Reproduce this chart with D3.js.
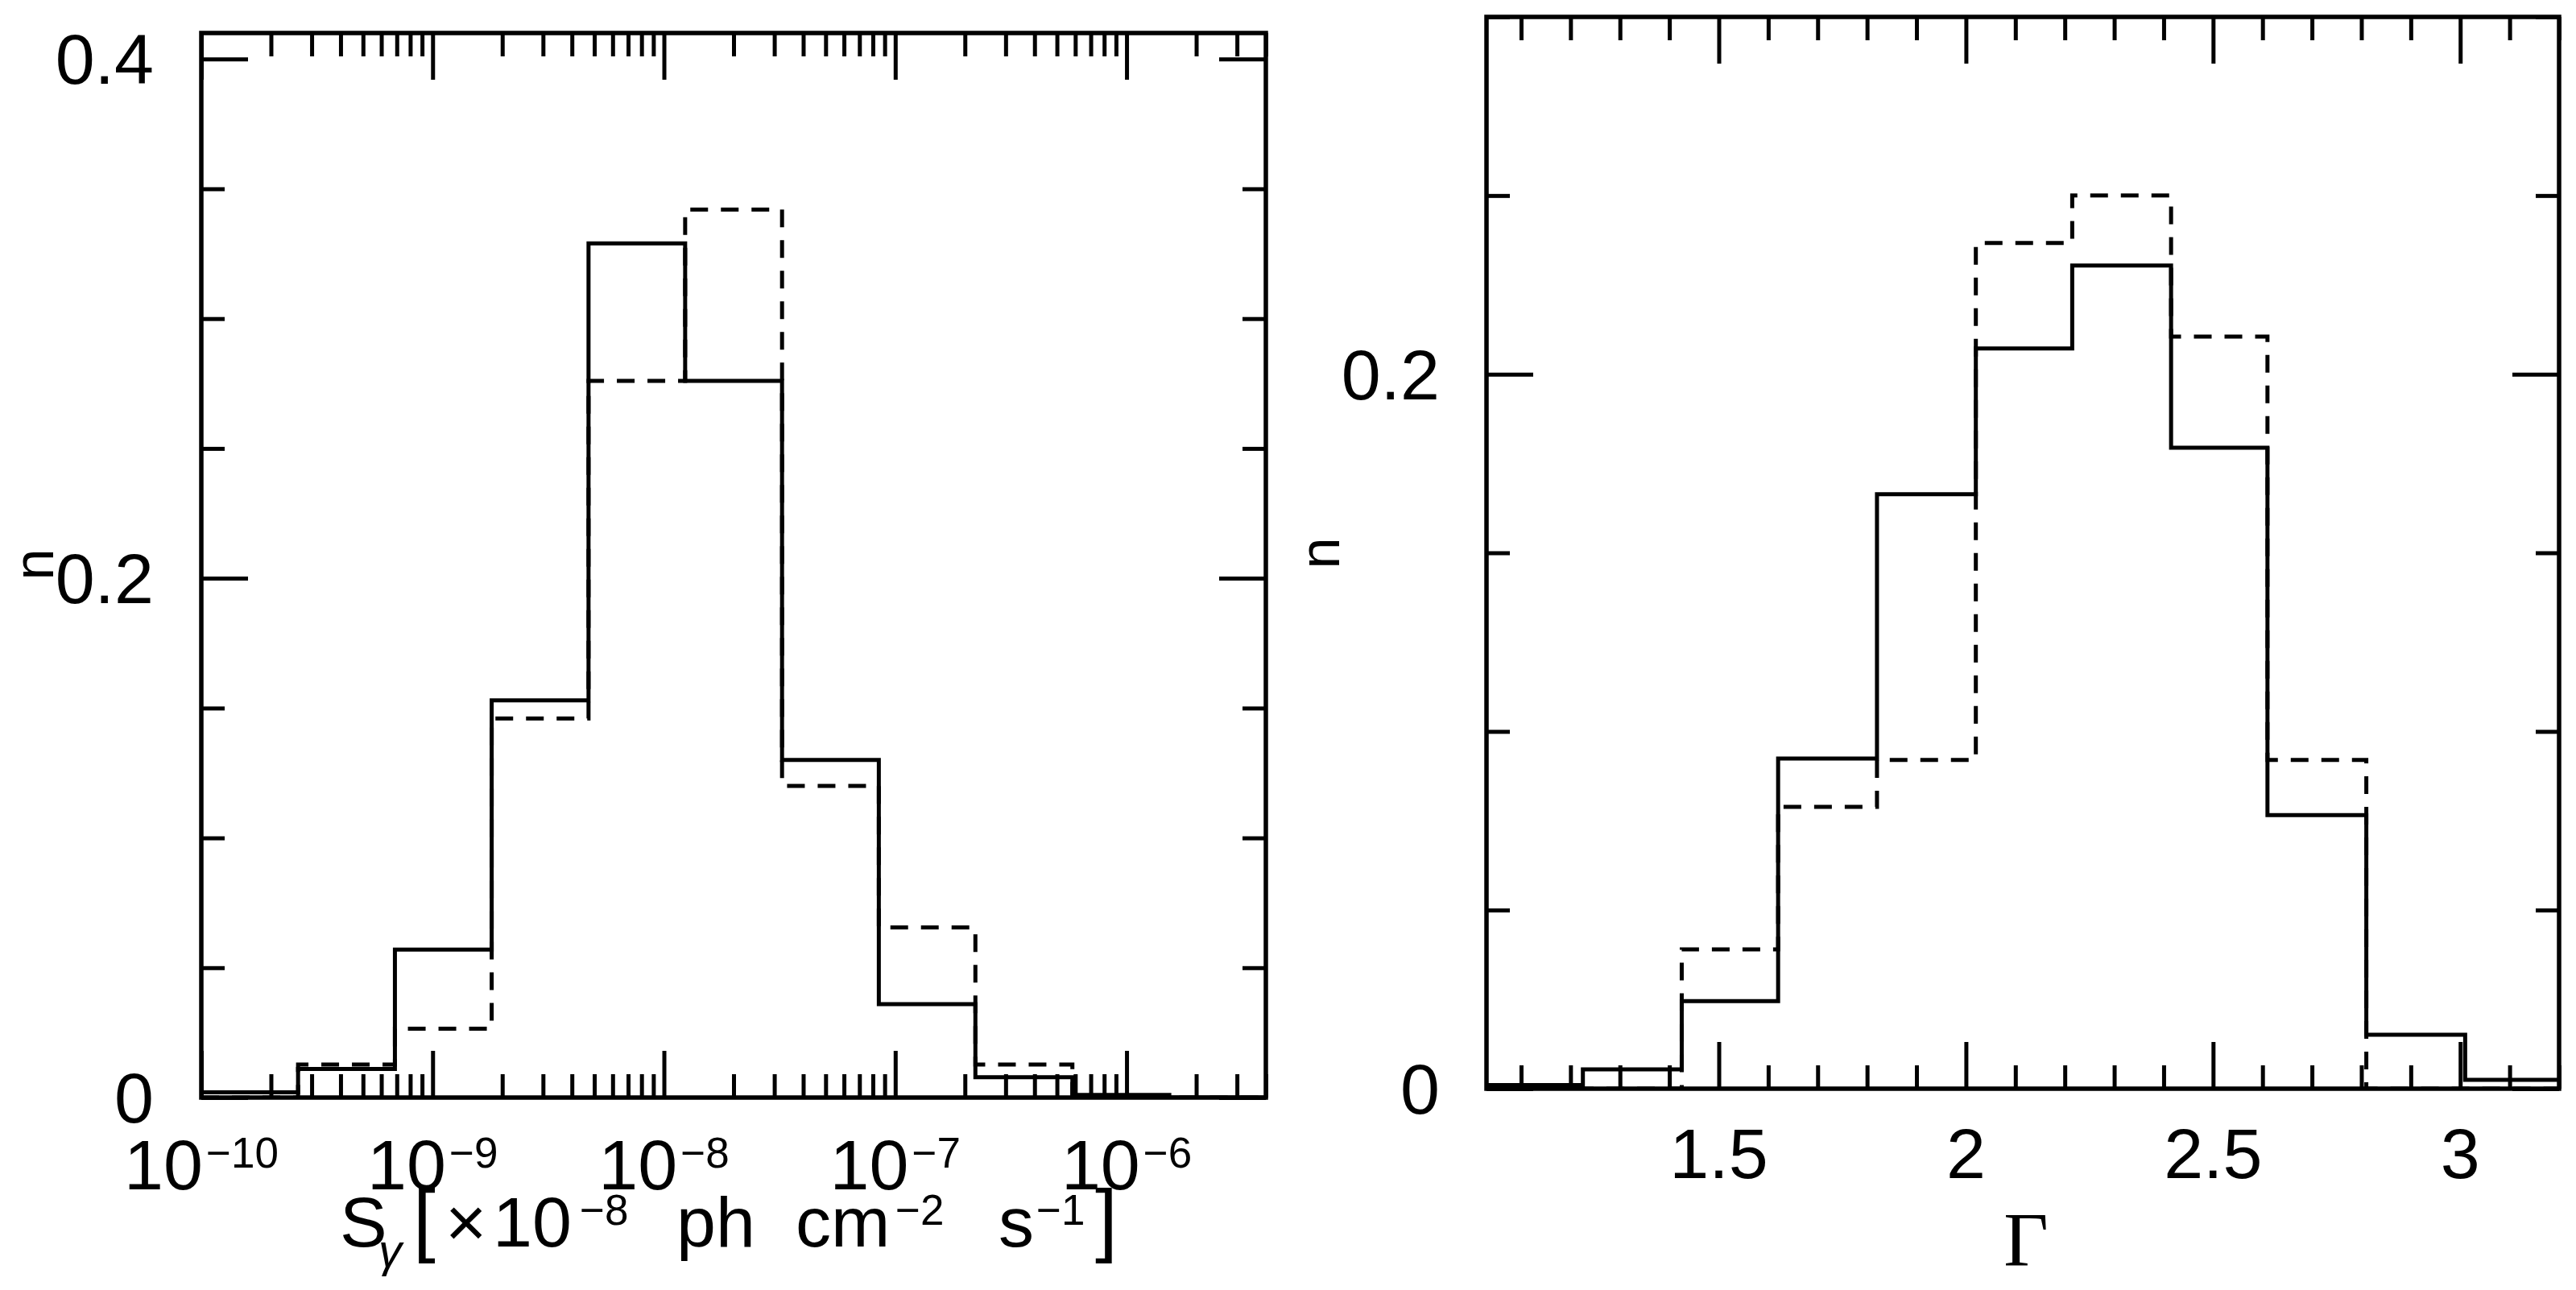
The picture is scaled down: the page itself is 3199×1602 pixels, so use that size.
<!DOCTYPE html>
<html><head><meta charset="utf-8">
<script src="https://cdn.jsdelivr.net/npm/d3@7"></script>
<style>html,body{margin:0;padding:0;background:#fff;} svg{display:block}</style>
</head><body>
<svg id="chart" width="3199" height="1602"></svg>
<script>
// ---------- DATA ----------
// Left panel: flux histogram (log bins)
const fluxBinEdges = [1e-10, 2.62e-10, 6.87e-10, 1.80e-9, 4.72e-9, 1.235e-8, 3.24e-8, 8.49e-8, 2.22e-7, 5.83e-7, 1.53e-6, 4.0e-6];
const fluxSolid  = [0.002, 0.011, 0.057, 0.153, 0.329, 0.276, 0.130, 0.036, 0.0078, 0.001, 0];
const fluxDashed = [0, 0.0127, 0.0265, 0.146, 0.276, 0.342, 0.120, 0.0655, 0.0127, 0, 0];
const fluxXMajor = [1e-10, 1e-9, 1e-8, 1e-7, 1e-6];
const fluxXExp   = ["\u221210", "\u22129", "\u22128", "\u22127", "\u22126"];
const fluxYMajor = [0, 0.2, 0.4];
const fluxYLabels = ["0", "0.2", "0.4"];

// Right panel: photon index histogram
const gammaBinEdges = [1.025, 1.225, 1.425, 1.62, 1.82, 2.02, 2.215, 2.415, 2.61, 2.81, 3.01, 3.21];
const gammaSolid  = [0.001, 0.0054, 0.0245, 0.0924, 0.1664, 0.2072, 0.2304, 0.1794, 0.0766, 0.0151, 0.0025];
const gammaDashed = [0, 0, 0.039, 0.0789, 0.092, 0.2367, 0.250, 0.2105, 0.092, 0, 0];
const gammaXMajor = [1.5, 2, 2.5, 3];
const gammaXLabels = ["1.5", "2", "2.5", "3"];
const gammaYMajor = [0, 0.2];
const gammaYLabels = ["0", "0.2"];

// ---------- LAYOUT ----------
const svg = d3.select("#chart");
const FONT = "'Liberation Sans', Arial, sans-serif";
const LW = 5;
const MAJ = 58, MIN = 29;

const L = {x0: 250, x1: 1572, y0: 41, y1: 1363};
const R = {x0: 1846, x1: 3178, y0: 21, y1: 1352};

const xL = d3.scaleLog().domain([1e-10, 4e-6]).range([L.x0, L.x1]);
const yL = d3.scaleLinear().domain([0, 0.41]).range([L.y1, L.y0]);
const xR = d3.scaleLinear().domain([1.03, 3.2]).range([R.x0, R.x1]);
const yR = d3.scaleLinear().domain([0, 0.3]).range([R.y1, R.y0]);

function axis(gen, pos, ticks, size) {
  const g = svg.append("g").attr("transform", pos)
    .call(gen.tickValues(ticks).tickSizeInner(-size).tickSizeOuter(0).tickFormat(""));
  g.select(".domain").remove();
  g.selectAll("line").attr("stroke", "#000").attr("stroke-width", LW);
}

function panel(P, x, y, xMajor, xMinor, yMajor, yMinor) {
  axis(d3.axisBottom(x), `translate(0,${P.y1})`, xMinor, MIN);
  axis(d3.axisBottom(x), `translate(0,${P.y1})`, xMajor, MAJ);
  axis(d3.axisTop(x), `translate(0,${P.y0})`, xMinor, MIN);
  axis(d3.axisTop(x), `translate(0,${P.y0})`, xMajor, MAJ);
  axis(d3.axisLeft(y), `translate(${P.x0},0)`, yMinor, MIN);
  axis(d3.axisLeft(y), `translate(${P.x0},0)`, yMajor, MAJ);
  axis(d3.axisRight(y), `translate(${P.x1},0)`, yMinor, MIN);
  axis(d3.axisRight(y), `translate(${P.x1},0)`, yMajor, MAJ);
  svg.append("rect").attr("x", P.x0).attr("y", P.y0)
    .attr("width", P.x1 - P.x0).attr("height", P.y1 - P.y0)
    .attr("fill", "none").attr("stroke", "#000").attr("stroke-width", 5.5);
}

function hist(P, x, y, edges, vals, dashed, id) {
  const clip = svg.append("clipPath").attr("id", id);
  clip.append("rect").attr("x", P.x0).attr("y", P.y0).attr("width", P.x1 - P.x0).attr("height", P.y1 - P.y0);
  const pts = edges.map((e, i) => [e, vals[Math.min(i, vals.length - 1)]]);
  const line = d3.line().x(d => x(d[0])).y(d => y(d[1])).curve(d3.curveStepAfter);
  svg.append("path").attr("d", line(pts)).attr("clip-path", `url(#${id})`)
    .attr("fill", "none").attr("stroke", "#000").attr("stroke-width", LW)
    .attr("stroke-dasharray", dashed ? "22,16" : null);
}

// Left panel
const fluxMinor = xL.ticks().filter(v => Math.abs(Math.log10(v) - Math.round(Math.log10(v))) > 1e-6);
const fluxYMinor = d3.range(0, 9).map(i => i * 0.05).filter(v => !fluxYMajor.some(m => Math.abs(m - v) < 1e-9));
panel(L, xL, yL, fluxXMajor, fluxMinor, fluxYMajor, fluxYMinor);
hist(L, xL, yL, fluxBinEdges, fluxSolid, false, "cL1");
hist(L, xL, yL, fluxBinEdges, fluxDashed, true, "cL2");

// Right panel
const gammaMinor = d3.ticks(1.1, 3.2, 21).filter(v => v >= 1.03 && !gammaXMajor.some(m => Math.abs(m - v) < 1e-9));
const gammaYMinor = d3.range(0, 7).map(i => i * 0.05).filter(v => !gammaYMajor.some(m => Math.abs(m - v) < 1e-9));
panel(R, xR, yR, gammaXMajor, gammaMinor, gammaYMajor, gammaYMinor);
hist(R, xR, yR, gammaBinEdges, gammaSolid, false, "cR1");
hist(R, xR, yR, gammaBinEdges, gammaDashed, true, "cR2");

// ---------- TEXT ----------
const FS = 88, SUP = 53;
function txt(x, y, s, opts = {}) {
  return svg.append("text").attr("x", x).attr("y", y).text(s)
    .attr("font-family", opts.family || FONT).attr("font-size", opts.size || FS)
    .attr("text-anchor", opts.anchor || "end").attr("fill", "#000");
}

// y tick labels
fluxYMajor.forEach((v, i) => txt(L.x0 - 59, yL(v) + 31, fluxYLabels[i]));
gammaYMajor.forEach((v, i) => txt(R.x0 - 58, yR(v) + 31, gammaYLabels[i]));

// x tick labels left (powers of ten)
fluxXMajor.forEach((v, i) => {
  const t = svg.append("text").attr("x", xL(v)).attr("y", 1477)
    .attr("font-family", FONT).attr("text-anchor", "middle").attr("fill", "#000");
  t.append("tspan").attr("font-size", FS).text("10");
  t.append("tspan").attr("font-size", SUP).attr("dy", -27).attr("dx", 4).text(fluxXExp[i]);
});
// x tick labels right
gammaXMajor.forEach((v, i) => txt(xR(v), 1463, gammaXLabels[i], {anchor: "middle"}));

// y axis titles "n"
svg.append("text").attr("transform", "translate(66,701) rotate(-90)")
  .attr("font-family", FONT).attr("font-size", 70).attr("text-anchor", "middle").text("n");
svg.append("text").attr("transform", "translate(1663,687) rotate(-90)")
  .attr("font-family", FONT).attr("font-size", 70).attr("text-anchor", "middle").text("n");

// x title left
(function () {
  const base = 1548;
  const t = svg.append("text").attr("font-family", FONT).attr("fill", "#000").attr("y", base);
  const pieces = [
    {s: "S", x: 422, size: FS, y: base},
    {s: "\u03b3", x: 470, size: 58, y: base + 25, style: "italic"},
    {s: "[", x: 513, size: 100, y: base},
    {s: "\u00d7", x: 553, size: FS, y: base},
    {s: "10", x: 612, size: FS, y: base},
    {s: "\u22128", x: 720, size: SUP, y: base - 27},
    {s: "ph", x: 840, size: FS, y: base},
    {s: "cm", x: 988, size: FS, y: base},
    {s: "\u22122", x: 1112, size: SUP, y: base - 27},
    {s: "s", x: 1240, size: FS, y: base},
    {s: "\u22121", x: 1287, size: SUP, y: base - 27},
    {s: "]", x: 1360, size: 100, y: base}
  ];
  pieces.forEach(p => t.append("tspan").attr("x", p.x).attr("y", p.y)
    .attr("font-size", p.size).attr("font-style", p.style || null).text(p.s));
})();

// x title right
svg.append("text").attr("x", 2516).attr("y", 1572)
  .attr("font-family", "'Liberation Serif', 'DejaVu Serif', serif").attr("font-size", 96)
  .attr("text-anchor", "middle").text("\u0393");
</script>
</body></html>
